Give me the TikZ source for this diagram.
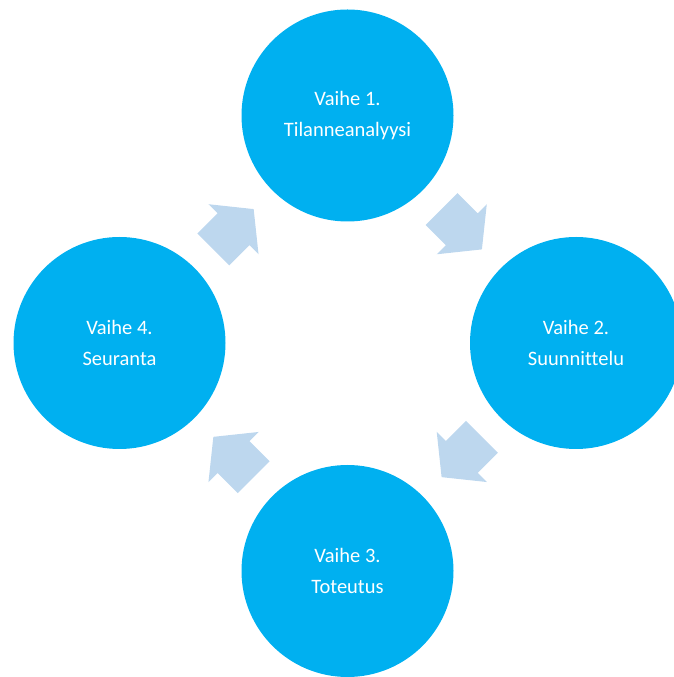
\documentclass[tikz,border=0pt]{standalone}
\usepackage{fontspec}
\setmainfont{Carlito}[Ligatures=NoCommon]
\usetikzlibrary{calc}
\definecolor{stagefill}{RGB}{0,176,240}
\definecolor{flowfill}{RGB}{189,215,238}
\tikzset{
  stage/.style={circle, fill=stagefill, draw=none, minimum size=212pt, inner sep=0pt,
    text=white, align=center, font=\fontsize{20.5}{31.5}\selectfont},
  flowarrow/.style={fill=flowfill, draw=none}
}
% block arrow centred between two stages, pointing along the given angle
\newcommand{\flowbetween}[3]{%
  \begin{scope}[shift={($(#1)!0.5!(#2)$)}, rotate=#3]
    \path[flowarrow] (-28.5,-22.5) -- (0,-22.5) -- (0,-35.4) -- (28.5,0)
      -- (0,35.4) -- (0,22.5) -- (-28.5,22.5) -- cycle;
  \end{scope}}
\begin{document}
\begin{tikzpicture}[x=1pt, y=1pt]
  \useasboundingbox (0,0) rectangle (674,677);
  \begin{scope}
    \clip (0,0) rectangle (674,677);
    \node[stage] (s1) at (347.5,561.5) {Vaihe 1.\\Tilanneanalyysi};
    \node[stage] (s2) at (576,334) {Vaihe 2.\\Suunnittelu};
    \node[stage] (s3) at (347.5,106) {Vaihe 3.\\Toteutus};
    \node[stage] (s4) at (119.5,334) {Vaihe 4.\\Seuranta};
    \flowbetween{s1}{s2}{-45}
    \flowbetween{s2}{s3}{-135}
    \flowbetween{s3}{s4}{135}
    \flowbetween{s4}{s1}{45}
  \end{scope}
\end{tikzpicture}
\end{document}
